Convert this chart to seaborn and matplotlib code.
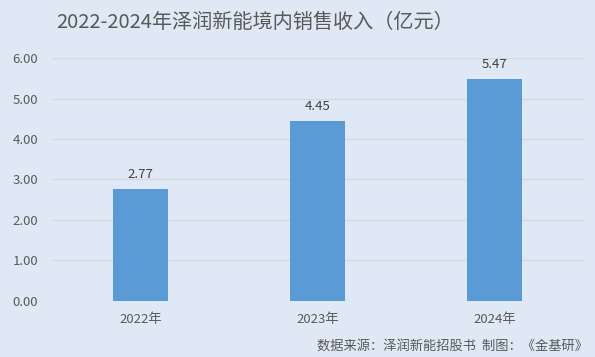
import pandas as pd
import matplotlib
matplotlib.use('Agg')
import matplotlib.pyplot as plt
import seaborn as sns

years = ['2022年', '2023年', '2024年']
revenue = [2.77, 4.45, 5.47]
y_ticks = [0.0, 1.0, 2.0, 3.0, 4.0, 5.0, 6.0]

title = '2022-2024年泽润新能境内销售收入（亿元）'
source = '数据来源：泽润新能招股书  制图：《金基研》'

df = pd.DataFrame({'year': years, 'revenue': revenue})

bg = '#dee9f5'
sns.set_theme(style='white')
plt.rcParams['font.family'] = ['Noto Sans CJK SC', 'DejaVu Sans']

fig = plt.figure(figsize=(5.95, 3.57), dpi=100, facecolor=bg)
ax = fig.add_axes([0.0874, 0.157, 0.8926, 0.6805])
ax.set_facecolor(bg)

sns.barplot(data=df, x='year', y='revenue', color='#5b9bd5', width=0.31,
            saturation=1, linewidth=0, ax=ax, zorder=3)

ax.set_ylim(0, 6)
ax.set_yticks(y_ticks)
ax.set_yticklabels([f'{v:.2f}' for v in y_ticks], color='#595959', fontsize=9.5)
ax.yaxis.grid(True, color='#d6d8db', linewidth=1, zorder=0)
ax.set_xlim(-0.5, 2.5)
ax.tick_params(axis='x', colors='#595959', labelsize=9.5, length=0, pad=9)
ax.tick_params(axis='y', length=0, pad=10)
ax.set_xlabel('')
ax.set_ylabel('')
for s in ax.spines.values():
    s.set_visible(False)

for i, v in enumerate(revenue):
    ax.text(i, v + 0.2, f'{v:.2f}', ha='center', va='bottom',
            fontsize=9.5, color='#404040')

fig.text(255 / 595, 1 - 22 / 357, title, ha='center', va='center',
         fontsize=14.5, color='#595959')
fig.text(588 / 595, 1 - 346 / 357, source, ha='right', va='center',
         fontsize=9.5, color='#595959')

plt.savefig('out.png', dpi=100, facecolor=bg)
